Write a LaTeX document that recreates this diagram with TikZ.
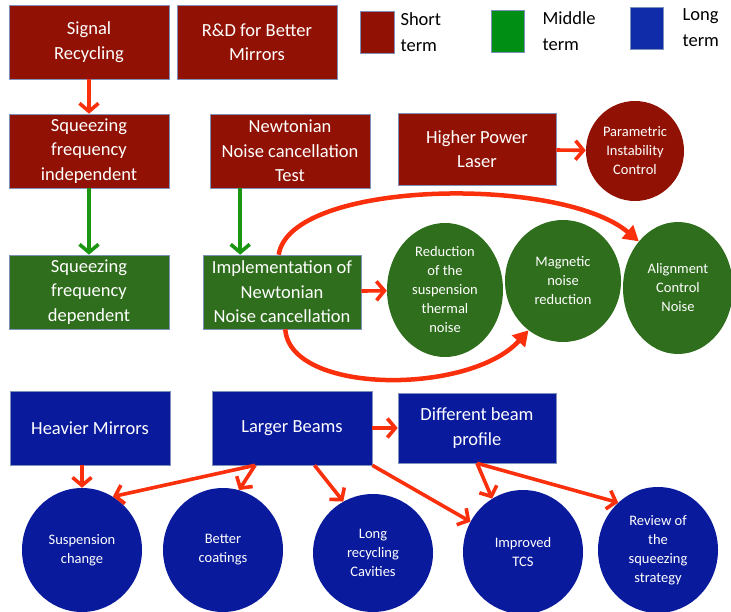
\documentclass[tikz,border=0pt]{standalone}
\usepackage{fontspec}
\setmainfont{Carlito}
\usetikzlibrary{shapes.geometric,arrows.meta,calc}
\definecolor{shortred}{RGB}{145,18,4}
\definecolor{midgreen}{RGB}{47,110,28}
\definecolor{longblue}{RGB}{10,26,156}
\definecolor{keygreen}{RGB}{0,142,20}
\definecolor{keyblue}{RGB}{16,44,168}
\definecolor{arrowred}{RGB}{250,48,12}
\definecolor{arrowgreen}{RGB}{28,150,18}
\definecolor{edgeblue}{RGB}{125,145,185}
\begin{document}
\begin{tikzpicture}[x=1pt, y=-1pt,
  box/.style={draw=edgeblue, line width=0.6pt, minimum width=160pt, minimum height=74pt, inner sep=2pt, align=center, text=white, font=\fontsize{18.5}{24.5}\selectfont},
  shortbox/.style={box, fill=shortred},
  midbox/.style={box, fill=midgreen},
  longbox/.style={box, fill=longblue},
  blob/.style={ellipse, inner sep=0pt, minimum width=118pt, minimum height=124pt, align=center, text=white, font=\fontsize{14.5}{19}\selectfont},
  key/.style={draw=edgeblue, line width=0.5pt, minimum width=34pt, minimum height=42pt},
  keytext/.style={anchor=west, align=left, font=\fontsize{18.5}{26}\selectfont},
  link/.style={draw=arrowred, line width=3.6pt, -{Straight Barb[length=8pt, width=19pt]}},
  golink/.style={draw=arrowgreen, line width=3.6pt, -{Straight Barb[length=8pt, width=19pt]}},
  sweep/.style={draw=arrowred, line width=4.5pt, -{Triangle[length=15pt, width=17pt]}}]
\useasboundingbox (0,0) rectangle (731,612);
% legend
\node[key, fill=shortred] (kshort) at (377,32) {};
\node[keytext] (tshort) at (397,32) {Short\\term};
\node[key, fill=keygreen, minimum width=33pt] (kmid) at (508,31) {};
\node[keytext] (tmid) at (539,31) {Middle\\term};
\node[key, fill=keyblue, minimum width=33pt] (klong) at (647,28) {};
\node[keytext] (tlong) at (679,28) {Long\\term};
% short term
\node[shortbox] (signal) at (89,42) {Signal\\Recycling};
\node[shortbox] (rnd) at (257,42) {R\&D for Better\\Mirrors};
\node[shortbox] (sqind) at (89,151) {Squeezing\\frequency\\independent};
\draw[link] (signal) -- (sqind);
\node[shortbox] (newt) at (290,151) {Newtonian\\Noise cancellation\\Test};
\node[shortbox, minimum width=158pt, minimum height=72pt] (laser) at (477,149) {Higher Power\\Laser};
\node[blob, fill=shortred, minimum width=98pt, minimum height=100pt] (param) at (635,151) {Parametric\\Instability\\Control};
\draw[link] (laser) -- (param);
% middle term
\node[midbox] (sqdep) at (89,292) {Squeezing\\frequency\\dependent};
\draw[golink] (sqind) -- (sqdep);
\node[midbox, minimum width=158pt] (impl) at (282,292) {Implementation of\\Newtonian\\Noise cancellation};
\coordinate (nt) at ($(newt.south west)!0.19!(newt.south east)$);
\draw[golink] (nt) -- (nt |- impl.north);
\node[blob, fill=midgreen, minimum width=116pt, minimum height=134pt] (redc) at (445,290) {Reduction\\of the\\suspension\\thermal\\noise};
\node[blob, fill=midgreen, minimum width=116pt, minimum height=122pt] (magc) at (563,281) {Magnetic\\noise\\reduction};
\node[blob, fill=midgreen, minimum width=110pt, minimum height=132pt] (alignc) at (678,288) {Alignment\\Control\\Noise};
\draw[link] (impl) -- (redc);
\draw[sweep] (impl.95) .. controls (290,180) and (560,175) .. (alignc.130);
\draw[sweep] (impl.275) .. controls (290,395) and (470,395) .. (magc.235);
% long term
\node[longbox] (heavy) at (90,428) {Heavier Mirrors};
\node[longbox] (larger) at (292,428) {Larger Beams};
\node[longbox, minimum width=158pt, minimum height=70pt] (profile) at (477,428) {Different beam\\profile};
\draw[link] (larger) -- (profile);
\node[blob, fill=longblue, minimum width=120pt] (susp) at (82,550) {Suspension\\change};
\node[blob, fill=longblue, minimum width=120pt] (better) at (223,550) {Better\\coatings};
\node[blob, fill=longblue, minimum width=120pt, minimum height=118pt] (long) at (373,553) {Long\\recycling\\Cavities};
\node[blob, fill=longblue, minimum width=120pt] (tcs) at (523,552) {Improved\\TCS};
\node[blob, fill=longblue, minimum width=120pt, minimum height=126pt] (review) at (658,550) {Review of\\the\\squeezing\\strategy};
\coordinate (lbA) at ($(larger.south west)!0.27!(larger.south east)$);
\coordinate (lbB) at ($(larger.south west)!0.64!(larger.south east)$);
\draw[link] (heavy.south -| susp.north) -- (susp.north);
\draw[link] (lbA) -- (susp.60);
\draw[link] (lbA) -- (better.75);
\draw[link] (lbB) -- (long.120);
\draw[link] (larger.south east) -- (tcs.150);
\draw[link] (profile.south) -- (tcs.120);
\draw[link] (profile.south) -- (review.130);
\end{tikzpicture}
\end{document}
